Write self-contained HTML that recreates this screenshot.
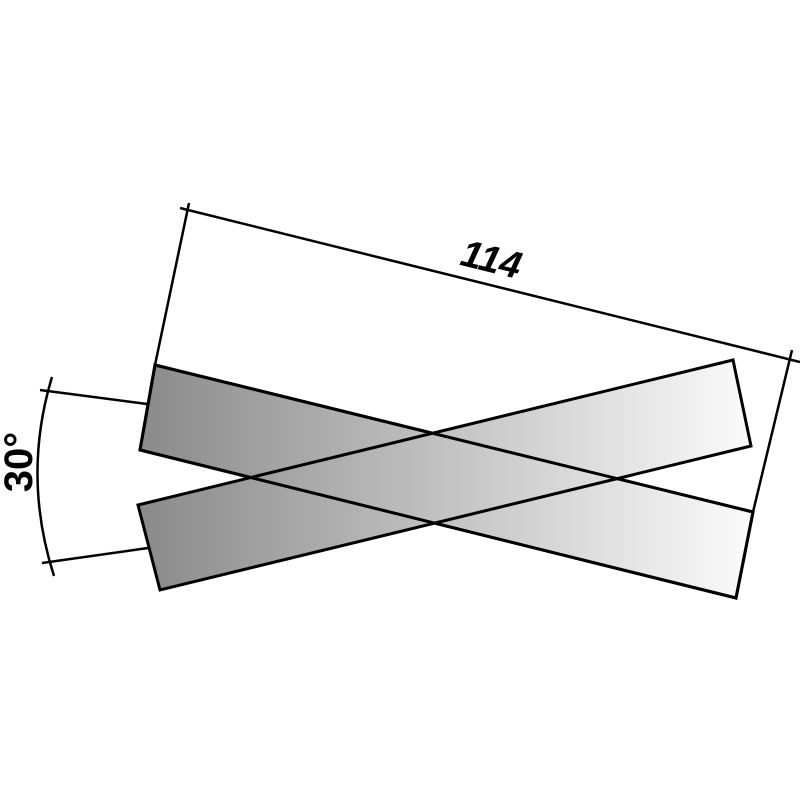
<!DOCTYPE html>
<html><head><style>html,body{margin:0;padding:0;background:#fff}</style></head>
<body>
<svg width="800" height="800" viewBox="0 0 800 800" xmlns="http://www.w3.org/2000/svg">
<defs>
<linearGradient id="g" gradientUnits="userSpaceOnUse" x1="140" y1="0" x2="752" y2="0">
<stop offset="0" stop-color="#8a8a8a"/><stop offset="1" stop-color="#fbfbfb"/>
</linearGradient>
</defs>
<g stroke="#000" stroke-width="3" fill="url(#g)" stroke-linejoin="miter">
<polygon points="155,365 140,450 736,598 753,512"/>
<polygon points="138,505 160,590 751,446 733,360"/>
<polygon points="155,365 140,450 736,598 753,512" fill="none"/>
</g>
<g stroke="#000" stroke-width="2.5" fill="none">
<line x1="155" y1="365" x2="189" y2="203"/>
<line x1="753" y1="512" x2="792" y2="350"/>
<line x1="180" y1="208" x2="800" y2="362"/>
<line x1="40" y1="390" x2="147" y2="404"/>
<line x1="42" y1="563" x2="148" y2="548"/>
<path d="M52,377 Q22,476 54,576"/>
</g>
<text x="490" y="272" transform="rotate(13.8 490 265)" font-family="Liberation Sans, sans-serif" font-weight="bold" font-style="italic" font-size="38" text-anchor="middle">114</text>
<text x="32" y="462" transform="rotate(-90 32 462)" font-family="Liberation Sans, sans-serif" font-weight="bold" font-size="40" text-anchor="middle">30°</text>
</svg>
</body></html>
